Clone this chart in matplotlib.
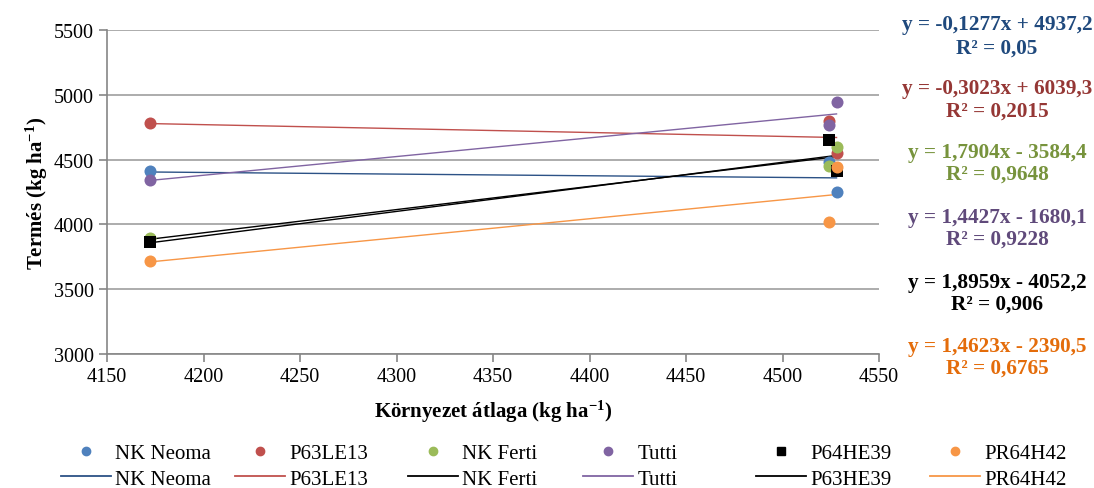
import numpy as np
import matplotlib
matplotlib.use("Agg")
from matplotlib import pyplot as plt
from matplotlib.lines import Line2D

plt.rcParams['font.family'] = ['Liberation Serif', 'DejaVu Serif']
plt.rcParams['mathtext.default'] = 'regular'

# környezet átlaga (x) for the three environments
env_x = [4172.5, 4524, 4528]

# Termés per cultivar (same order as env_x)
nk_neoma = [4410, 4485, 4253]
p63le13 = [4781, 4801, 4552]
nk_ferti = [3895, 4449, 4596]
tutti = [4343, 4768, 4944]
p64he39 = [3862, 4655, 4410]
pr64h42 = [3720, 4021, 4441]

series = [nk_neoma, p63le13, nk_ferti, tutti, p64he39, pr64h42]
names = ['NK Neoma', 'P63LE13', 'NK Ferti', 'Tutti', 'P64HE39', 'PR64H42']
line_names = ['NK Neoma', 'P63LE13', 'NK Ferti', 'Tutti', 'P63HE39', 'PR64H42']

# trend line coefficients as printed on the chart
slopes = [-0.1277, -0.3023, 1.7904, 1.4427, 1.8959, 1.4623]
intercepts = [4937.2, 6039.3, -3584.4, -1680.1, -4052.2, -2390.5]
r2 = ['0,05', '0,2015', '0,9648', '0,9228', '0,906', '0,6765']
eq_text = ['y = -0,1277x + 4937,2', 'y = -0,3023x + 6039,3', 'y = 1,7904x - 3584,4',
           'y = 1,4427x - 1680,1', 'y = 1,8959x - 4052,2', 'y = 1,4623x - 2390,5']

marker_colors = ['#4F81BD', '#C0504D', '#9BBB59', '#8064A2', '#000000', '#F79646']
markers = ['o', 'o', 'o', 'o', 's', 'o']
line_colors = ['#2C5286', '#C0504D', '#000000', '#8064A2', '#000000', '#F79646']
eq_colors = ['#1F497D', '#953735', '#77933C', '#604A7B', '#000000', '#E46C0A']

W, H = 1094, 489
fig = plt.figure(figsize=(W / 100, H / 100), dpi=100)
ax = fig.add_axes([107 / W, 1 - 355 / H, 772 / W, 324 / H])

x_line = np.array([min(env_x), max(env_x)])
for i in range(len(series)):
    ax.scatter(env_x, series[i], s=75, marker=markers[i], color=marker_colors[i],
               linewidths=0, zorder=3)
    ax.plot(x_line, slopes[i] * x_line + intercepts[i], color=line_colors[i], lw=1.0, zorder=2)

ax.set_xlim(4150, 4550)
ax.set_ylim(3000, 5500)
ax.set_xticks(np.arange(4150, 4551, 50))
ax.set_yticks(np.arange(3000, 5501, 500))
ax.yaxis.grid(True, color='#A6A6A6', lw=1.3)
ax.set_axisbelow(True)
for s in ['top', 'right']:
    ax.spines[s].set_visible(False)
for s in ['left', 'bottom']:
    ax.spines[s].set_color('#868686')
    ax.spines[s].set_linewidth(1.2)
ax.tick_params(axis='both', labelsize=14.5, color='#868686', length=6, width=1.2)
ax.set_ylabel('Termés (kg ha$^{-1}$)', fontsize=15, fontweight='bold', labelpad=3)
ax.set_xlabel('Környezet átlaga (kg ha$^{-1}$)', fontsize=15, fontweight='bold', labelpad=8)

eq_y = [[25, 49], [89, 112], [153, 175], [218, 240], [283, 305], [347, 369]]
for i in range(len(eq_text)):
    fig.text(997 / W, 1 - eq_y[i][0] / H, eq_text[i], color=eq_colors[i], fontsize=15.3,
             fontweight='bold', ha='center', va='center')
    fig.text(997 / W, 1 - eq_y[i][1] / H, 'R² = ' + r2[i], color=eq_colors[i], fontsize=15.3,
             fontweight='bold', ha='center', va='center')

# legend: one column per cultivar, evenly spaced like the original
col_x = [61, 235, 408, 583, 756, 930]
for i in range(len(names)):
    hm = Line2D([], [], marker=markers[i], color=marker_colors[i], ls='none', markersize=6)
    hl = Line2D([], [], color=line_colors[i], lw=1.3)
    fig.legend([hm, hl], [names[i], line_names[i]], loc='center left',
               bbox_to_anchor=(col_x[i] / W, 1 - 467 / H), frameon=False, fontsize=15,
               borderpad=0, borderaxespad=0, handlelength=2.4, handletextpad=0.2,
               labelspacing=0.3)

fig.savefig('out.png', dpi=100)
